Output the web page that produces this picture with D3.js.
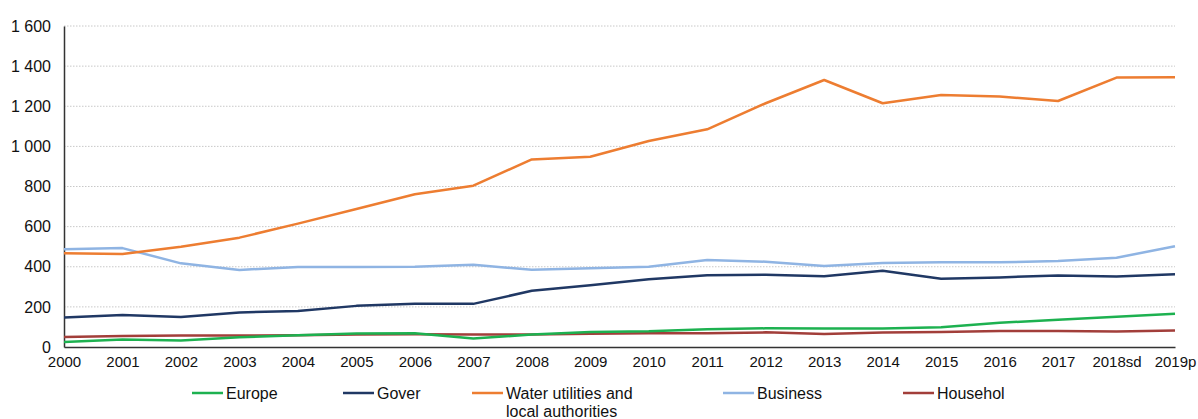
<!DOCTYPE html>
<html>
<head>
<meta charset="utf-8">
<script src="https://cdn.jsdelivr.net/npm/d3@7"></script>
<style>
  body { margin: 0; background: #fff; }
  svg { display: block; font-family: "Liberation Sans", Arial, sans-serif; }
</style>
</head>
<body>
<svg id="chart" width="1198" height="419"></svg>
<script>
// Years on the x axis
const years = ["2000","2001","2002","2003","2004","2005","2006","2007","2008","2009",
               "2010","2011","2012","2013","2014","2015","2016","2017","2018sd","2019p"];

// Series values
const europe    = [25, 37, 33, 48, 58, 67, 68, 42, 62, 75, 78, 88, 93, 92, 92, 98, 121, 136, 151, 166];
const gover     = [147, 160, 149, 172, 180, 205, 215, 215, 280, 308, 338, 358, 360, 353, 380, 340, 347, 357, 352, 363];
const water     = [467, 463, 500, 545, 615, 688, 761, 804, 935, 948, 1027, 1085, 1215, 1331, 1215, 1256, 1248, 1226, 1343, 1345];
const business  = [487, 493, 417, 384, 399, 399, 400, 410, 385, 392, 400, 434, 425, 404, 419, 422, 422, 429, 445, 502];
const household = [50, 55, 57, 57, 58, 62, 63, 62, 62, 66, 68, 68, 73, 65, 72, 75, 80, 80, 77, 82];

const yTicks = [0, 200, 400, 600, 800, 1000, 1200, 1400, 1600];

const series = [
  { name: ["Europe"], values: europe, color: "#1db150" },
  { name: ["Gover"], values: gover, color: "#203864" },
  { name: ["Water utilities and", "local authorities"], values: water, color: "#ed7d31" },
  { name: ["Business"], values: business, color: "#8fb4e3" },
  { name: ["Househol"], values: household, color: "#a23e3a" }
];
// Order in which the lines are stacked on the canvas
const drawOrder = [3, 2, 1, 4, 0];

const svg = d3.select("#chart");
const plotLeft = 64, plotRight = 1175, plotTop = 26, plotBottom = 347;

const x = d3.scalePoint().domain(years).range([plotLeft, plotRight]);
const y = d3.scaleLinear().domain([0, 1600]).range([plotBottom, plotTop]);

const fmt = v => d3.format(",")(v).replace(/,/g, " ");

// Dotted horizontal gridlines
svg.append("g")
  .selectAll("line")
  .data(yTicks.filter(d => d > 0))
  .join("line")
  .attr("x1", plotLeft).attr("x2", plotRight)
  .attr("y1", d => y(d)).attr("y2", d => y(d))
  .attr("stroke", "#c8c8c8")
  .attr("stroke-width", 1)
  .attr("stroke-dasharray", "1.5,1.5");

// Y axis
const yAxis = svg.append("g")
  .attr("transform", `translate(${plotLeft},0)`)
  .call(d3.axisLeft(y).tickValues(yTicks).tickSize(0).tickPadding(13).tickFormat(fmt));
yAxis.select(".domain").attr("stroke", "#333").attr("stroke-width", 1.5);
yAxis.selectAll("text").attr("font-size", 16).attr("fill", "#111")
  .attr("font-family", "Liberation Sans, Arial, sans-serif");

// X axis
const xAxis = svg.append("g")
  .attr("transform", `translate(0,${plotBottom})`)
  .call(d3.axisBottom(x).tickSize(0).tickPadding(9));
xAxis.select(".domain").attr("stroke", "#333").attr("stroke-width", 1.5);
xAxis.selectAll("text").attr("font-size", 15).attr("fill", "#111")
  .attr("font-family", "Liberation Sans, Arial, sans-serif");

// Lines
const line = d3.line().x((d, i) => x(years[i])).y(d => y(d));
svg.append("g")
  .selectAll("path")
  .data(drawOrder.map(i => series[i]))
  .join("path")
  .attr("d", d => line(d.values))
  .attr("fill", "none")
  .attr("stroke", d => d.color)
  .attr("stroke-width", 2.5)
  .attr("stroke-linejoin", "round");

// Legend
const legendX = [192, 343, 472, 723, 903];
const legendY = 393;
const legend = svg.append("g")
  .selectAll("g")
  .data(series)
  .join("g")
  .attr("transform", (d, i) => `translate(${legendX[i]},${legendY})`);
legend.append("line")
  .attr("x1", 0).attr("x2", 31).attr("y1", 0).attr("y2", 0)
  .attr("stroke", d => d.color).attr("stroke-width", 2.5);
legend.append("text")
  .attr("x", 34).attr("y", 0)
  .attr("font-size", 16).attr("fill", "#111")
  .selectAll("tspan")
  .data(d => d.name)
  .join("tspan")
  .attr("x", 34)
  .attr("dy", (d, i) => i === 0 ? "0.35em" : "1.15em")
  .text(d => d);
</script>
</body>
</html>
